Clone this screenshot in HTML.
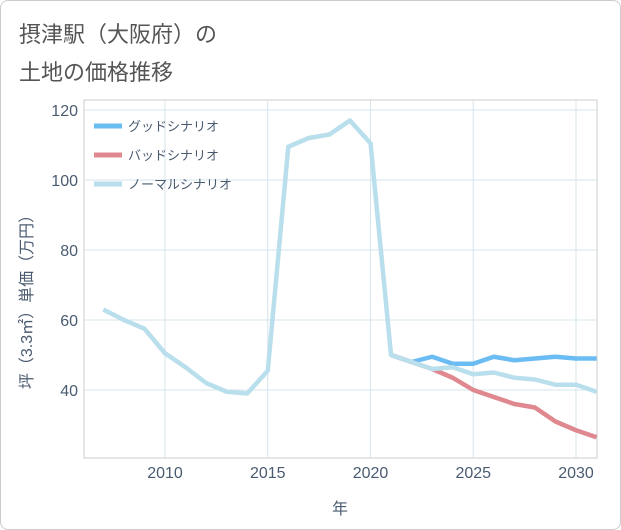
<!DOCTYPE html>
<html><head><meta charset="utf-8"><style>
body{margin:0;background:#fff;font-family:"Liberation Sans","Noto Sans CJK JP",sans-serif;}
#wrap{position:relative;width:619px;height:528px;border:1px solid #ccc;border-radius:8px;background:#fff;}
.title{position:absolute;left:18px;font-size:22px;color:#555;}
</style></head><body>
<div id="wrap">
<div class="title" style="top:16px">摂津駅（大阪府）の</div>
<div class="title" style="top:54px">土地の価格推移</div>
<svg id="chart" width="621" height="530" style="position:absolute;left:-1px;top:-1px"></svg>
</div>
<script>
const years=[2007,2008,2009,2010,2011,2012,2013,2014,2015,2016,2017,2018,2019,2020,2021,2022,2023,2024,2025,2026,2027,2028,2029,2030,2031];
const normal=[63,60,57.5,50.5,46.5,42,39.5,39,45.5,109.5,112,113,117,110.5,50,48,46,46.5,44.5,45,43.5,43,41.5,41.5,39.5];
const futureYears=[2021,2022,2023,2024,2025,2026,2027,2028,2029,2030,2031];
const good=[50,48,49.5,47.5,47.5,49.5,48.5,49,49.5,49,49];
const bad=[50,48,46,43.5,40,38,36,35,31,28.5,26.5];
const xTicks=[2010,2015,2020,2025,2030];
const yTicks=[40,60,80,100,120];
const NS="http://www.w3.org/2000/svg";
const svg=document.getElementById('chart');
const L=84,R=597,T=100,B=458;
const TXT='#4a5b70';
const x=v=>165+(v-2010)*20.55;
const y=v=>530-v*3.5;
function mk(t,a){const e=document.createElementNS(NS,t);for(const k in a)e.setAttribute(k,a[k]);svg.appendChild(e);return e;}
let e=mk('rect',{x:L,y:T,width:R-L,height:B-T,fill:'none',stroke:'#ccc'});


xTicks.forEach(t=>{let g=mk('line',{x1:x(t),x2:x(t),y1:T,y2:B,stroke:'#d6e4ee'});


let l=mk('text',{x:x(t),y:478,'text-anchor':'middle','font-size':16,fill:TXT});l.textContent=t;

});
yTicks.forEach(t=>{let g=mk('line',{x1:L,x2:R,y1:y(t),y2:y(t),stroke:'#d6e4ee'});


let l=mk('text',{x:78,y:y(t)+6,'text-anchor':'end','font-size':16,fill:TXT});l.textContent=t;

});
let xt=mk('text',{x:340,y:514,'text-anchor':'middle','font-size':16,fill:TXT});xt.textContent='年';


let yt=mk('text',{x:0,y:0,'text-anchor':'middle','font-size':16,fill:TXT,transform:'translate(32,298) rotate(-90)'});yt.textContent='坪（3.3㎡）単価（万円）';


function line(xs,vs,c,name){const p=mk('polyline',{points:xs.map((v,i)=>x(v)+','+y(vs[i])).join(' '),fill:'none',stroke:c,'stroke-width':4.5,'stroke-linejoin':'round'});

}
line(futureYears,good,'#6bbcf3','good-scenario-line');
line(futureYears,bad,'#e08890','bad-scenario-line');
line(years,normal,'#b9dfec','normal-scenario-line');
const leg=[['グッドシナリオ','#6bbcf3'],['バッドシナリオ','#e08890'],['ノーマルシナリオ','#b9dfec']];
leg.forEach((d,i)=>{const yy=126+i*29;
let s=mk('line',{x1:94,x2:122,y1:yy,y2:yy,stroke:d[1],'stroke-width':5});


let t=mk('text',{x:128,y:yy+5,'font-size':13,fill:TXT});t.textContent=d[0];

});
</script>
</body></html>
